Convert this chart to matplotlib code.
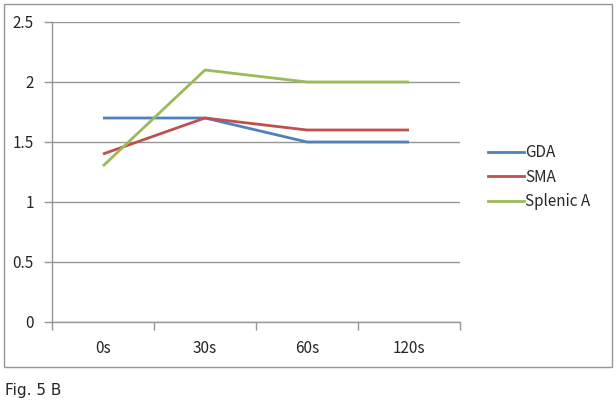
import matplotlib.pyplot as plt
from matplotlib.patches import Rectangle
from matplotlib.lines import Line2D

plt.rcParams['font.family'] = ['Noto Sans CJK KR', 'DejaVu Sans']

times = ['0s', '30s', '60s', '120s']
gda = [1.7, 1.7, 1.5, 1.5]
sma = [1.4, 1.7, 1.6, 1.6]
splenic = [1.3, 2.1, 2.0, 2.0]
series_names = ['GDA', 'SMA', 'Splenic A']
yticks = [0, 0.5, 1, 1.5, 2, 2.5]
ytick_labels = ['0', '0.5', '1', '1.5', '2', '2.5']

colors = ['#4F81BD', '#C0504D', '#9BBB59']
grid_c = '#969696'
txt_c = '#262626'

W, H = 616, 405
fig = plt.figure(figsize=(W / 100, H / 100), dpi=100)

# outer chart box
fig.patches.append(Rectangle((4 / W, 1 - 367 / H), 608 / W, 363 / H,
                             transform=fig.transFigure, fill=False,
                             edgecolor='#969696', lw=1.0))

ax = fig.add_axes([52 / W, 1 - 322 / H, 408 / W, 300 / H])
x = range(len(times))
for vals, c, name in zip([gda, sma, splenic], colors, series_names):
    ax.plot(x, vals, color=c, lw=2.0, label=name, solid_capstyle='butt')

ax.set_xlim(-0.5, len(times) - 0.5)
ax.set_ylim(0, 2.5)
ax.set_yticks(yticks)
ax.set_yticklabels(ytick_labels)
ax.set_xticks(list(x))
ax.set_xticklabels(times)
ax.set_xticks([i - 0.5 for i in range(len(times) + 1)], minor=True)
ax.tick_params(axis='x', which='major', length=0, pad=13, labelsize=11, labelcolor=txt_c)
ax.tick_params(axis='x', which='minor', length=6, color=grid_c, width=1)
ax.tick_params(axis='y', length=6, color=grid_c, width=1, pad=7, labelsize=11, labelcolor=txt_c)
ax.yaxis.grid(True, color=grid_c, lw=1)
ax.set_axisbelow(True)
for s in ['top', 'right']:
    ax.spines[s].set_visible(False)
for s in ['left', 'bottom']:
    ax.spines[s].set_color(grid_c)
    ax.spines[s].set_linewidth(1)

handles = [Line2D([], [], color=c, lw=2.0) for c in colors]
fig.legend(handles, series_names, loc='center left', bbox_to_anchor=(474 / W, 1 - 177 / H),
           frameon=False, fontsize=11, handlelength=2.4, handletextpad=0.05,
           labelspacing=0.5, labelcolor=txt_c)

fig.text(5 / W, 1 - 390 / H, 'Fig. 5 B', fontsize=11, color=txt_c,
         family=['Liberation Sans Narrow', 'DejaVu Sans'], va='center', ha='left')

fig.savefig('out.png', dpi=100)
